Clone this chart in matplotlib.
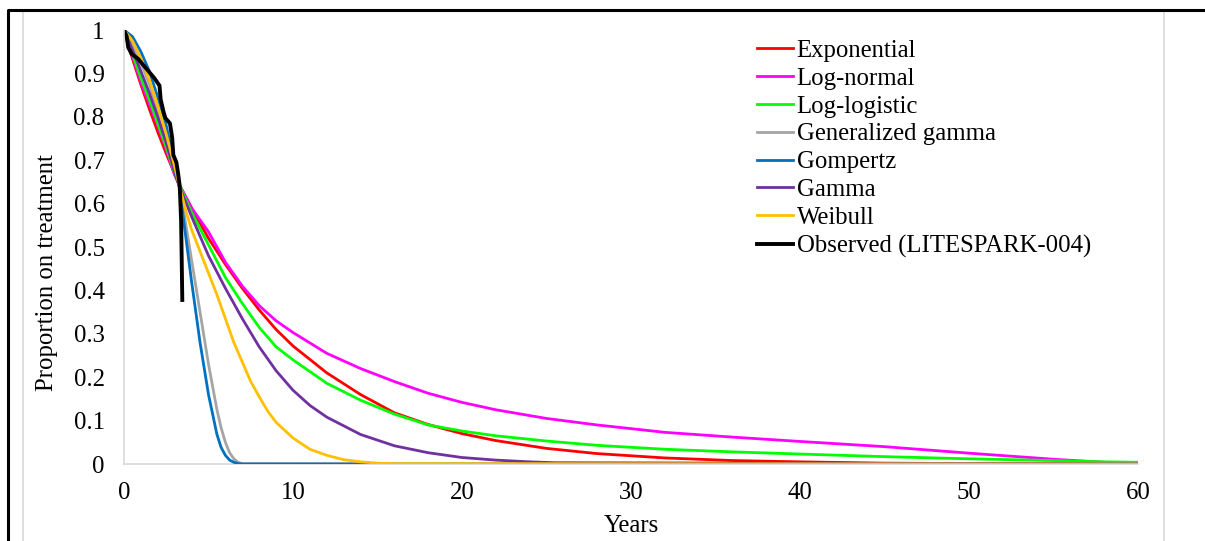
import matplotlib
matplotlib.use("Agg")
import matplotlib.pyplot as plt
from matplotlib.lines import Line2D

# ---------------------------------------------------------------------------
# DATA
# ---------------------------------------------------------------------------
exp_t = [0, 0.5, 1, 1.5, 2, 2.5, 3, 3.25, 4, 5, 6, 7, 8, 9, 10, 12, 14, 16, 18, 20,
         22, 25, 28, 32, 36, 40, 45, 50, 55, 60]
exp_s = [1.0, 0.934, 0.874, 0.818, 0.765, 0.715, 0.668, 0.645, 0.59, 0.52, 0.46, 0.405,
         0.355, 0.31, 0.272, 0.21, 0.16, 0.118, 0.091, 0.07, 0.054, 0.036, 0.024, 0.014,
         0.008, 0.005, 0.002, 0.001, 0.0005, 0.0]

lnorm_t = [0, 0.5, 1, 1.5, 2, 2.5, 3, 3.25, 4, 5, 6, 7, 8, 9, 10, 12, 14, 16, 18, 20,
           22, 25, 28, 32, 36, 40, 45, 50, 55, 58, 58.5]
lnorm_s = [1.0, 0.94, 0.88, 0.83, 0.78, 0.725, 0.665, 0.645, 0.59, 0.535, 0.465, 0.41,
           0.365, 0.33, 0.303, 0.255, 0.22, 0.19, 0.163, 0.142, 0.125, 0.105, 0.09, 0.073,
           0.062, 0.052, 0.04, 0.025, 0.011, 0.004, 0.003]

llogis_t = [0, 0.5, 1, 1.5, 2, 2.5, 3, 3.25, 4, 5, 6, 7, 8, 9, 10, 12, 14, 16, 18, 20,
            22, 25, 28, 32, 36, 40, 45, 50, 55, 58, 60]
llogis_s = [1.0, 0.945, 0.89, 0.84, 0.785, 0.73, 0.67, 0.645, 0.58, 0.505, 0.43, 0.37,
            0.315, 0.27, 0.24, 0.186, 0.147, 0.115, 0.09, 0.076, 0.065, 0.053, 0.043,
            0.034, 0.028, 0.023, 0.017, 0.012, 0.008, 0.005, 0.004]

gengamma_t = [0, 0.5, 1, 1.5, 2, 2.5, 3, 3.25, 3.5, 4, 4.5, 5, 5.5, 5.75, 6, 6.25, 6.5,
              6.75, 7, 60]
gengamma_s = [1.0, 0.97, 0.925, 0.875, 0.815, 0.75, 0.68, 0.643, 0.59, 0.47, 0.35, 0.23,
              0.125, 0.083, 0.05, 0.026, 0.012, 0.004, 0.001, 0.0]

gompertz_t = [0, 0.5, 1, 1.5, 2, 2.5, 3, 3.25, 3.5, 4, 4.5, 5, 5.5, 5.75, 6, 6.25, 6.5,
              6.75, 7, 60]
gompertz_s = [1.0, 0.985, 0.95, 0.905, 0.845, 0.78, 0.69, 0.643, 0.57, 0.42, 0.28, 0.16,
              0.068, 0.038, 0.02, 0.009, 0.004, 0.001, 0.0, 0.0]

gamma_t = [0, 0.5, 1, 1.5, 2, 2.5, 3, 3.25, 4, 5, 6, 7, 8, 9, 10, 11, 12, 14, 16, 18,
           20, 22, 24, 25.5, 60]
gamma_s = [1.0, 0.955, 0.905, 0.855, 0.8, 0.74, 0.672, 0.642, 0.57, 0.48, 0.405, 0.335,
           0.27, 0.215, 0.17, 0.135, 0.108, 0.068, 0.042, 0.026, 0.015, 0.009, 0.005,
           0.003, 0.0]

weibull_t = [0, 0.5, 1, 1.5, 2, 2.5, 3, 3.25, 3.7, 4, 4.5, 5, 5.5, 6, 6.5, 7, 7.5, 8,
             8.5, 9, 10, 11, 12, 13, 14, 15, 16, 60]
weibull_s = [1.0, 0.975, 0.935, 0.885, 0.825, 0.76, 0.685, 0.645, 0.578, 0.54, 0.49,
             0.44, 0.39, 0.335, 0.28, 0.235, 0.19, 0.155, 0.122, 0.096, 0.06, 0.034, 0.02,
             0.01, 0.005, 0.002, 0.001, 0.0]

obs_t = [0, 0.16, 0.25, 0.45, 0.85, 1.3, 1.8, 2.1, 2.17, 2.35, 2.45, 2.72, 2.85, 2.92,
         3.1, 3.2, 3.3, 3.38, 3.45]
obs_s = [1.0, 0.985, 0.96, 0.945, 0.933, 0.912, 0.889, 0.872, 0.84, 0.81, 0.797, 0.785,
         0.752, 0.712, 0.695, 0.67, 0.64, 0.56, 0.378]

y_ticks = [0, 0.1, 0.2, 0.3, 0.4, 0.5, 0.6, 0.7, 0.8, 0.9, 1]
y_labels = ["0", "0.1", "0.2", "0.3", "0.4", "0.5", "0.6", "0.7", "0.8", "0.9", "1"]
x_ticks = [0, 10, 20, 30, 40, 50, 60]

# ---------------------------------------------------------------------------
# PLOT
# ---------------------------------------------------------------------------
plt.rcParams["font.family"] = ["Liberation Serif", "DejaVu Serif"]
FS = 17.8

fig = plt.figure(figsize=(12.05, 5.41), dpi=100)
ax = fig.add_axes([0.1029, 0.1423, 0.8415, 0.8022])

series = [
    (exp_t, exp_s, "#FF0000", "Exponential"),
    (lnorm_t, lnorm_s, "#FF00FF", "Log-normal"),
    (llogis_t, llogis_s, "#00FF00", "Log-logistic"),
    (gengamma_t, gengamma_s, "#A5A5A5", "Generalized gamma"),
    (gompertz_t, gompertz_s, "#0070C0", "Gompertz"),
    (gamma_t, gamma_s, "#7030A0", "Gamma"),
    (weibull_t, weibull_s, "#FFC000", "Weibull"),
]
for t, s, c, name in series:
    ax.plot(t, s, color=c, lw=2.0, label=name, solid_joinstyle="round")
ax.plot(obs_t, obs_s, color="black", lw=2.8, label="Observed (LITESPARK-004)",
        solid_joinstyle="round")

ax.set_xlim(0, 60)
ax.set_ylim(0, 1)
ax.set_xticks(x_ticks)
ax.set_yticks(y_ticks)
ax.set_yticklabels(y_labels)
ax.tick_params(length=0, labelsize=FS)
ax.tick_params(axis="x", pad=13)
ax.tick_params(axis="y", pad=14)
for side in ("top", "right"):
    ax.spines[side].set_visible(False)
for side in ("left", "bottom"):
    ax.spines[side].set_color("#D9D9D9")
    ax.spines[side].set_linewidth(1.2)
ax.spines["bottom"].set_zorder(0)

ax.set_xlabel("Years", fontsize=FS, labelpad=8)
ax.set_ylabel("Proportion on treatment", fontsize=FS)
ax.yaxis.set_label_coords(-0.0651, 0.442)

ax.legend(loc="upper left", bbox_to_anchor=(0.628, 0.927), bbox_transform=fig.transFigure,
          frameon=False, fontsize=FS, handlelength=1.46, handletextpad=0.16,
          labelspacing=0.225, borderaxespad=0, borderpad=0)

# screenshot frame: gray chart border and black page border
fig.add_artist(Line2D([23 / 1205, 23 / 1205, 1164 / 1205, 1164 / 1205],
                      [0, 1 - 11 / 541, 1 - 11 / 541, 0],
                      transform=fig.transFigure, color="#D9D9D9", lw=1.2))
fig.add_artist(Line2D([8 / 1205, 8 / 1205, 1.0], [0, 1 - 9.5 / 541, 1 - 9.5 / 541],
                      transform=fig.transFigure, color="black", lw=2.2))

fig.savefig("out.png", dpi=100)
